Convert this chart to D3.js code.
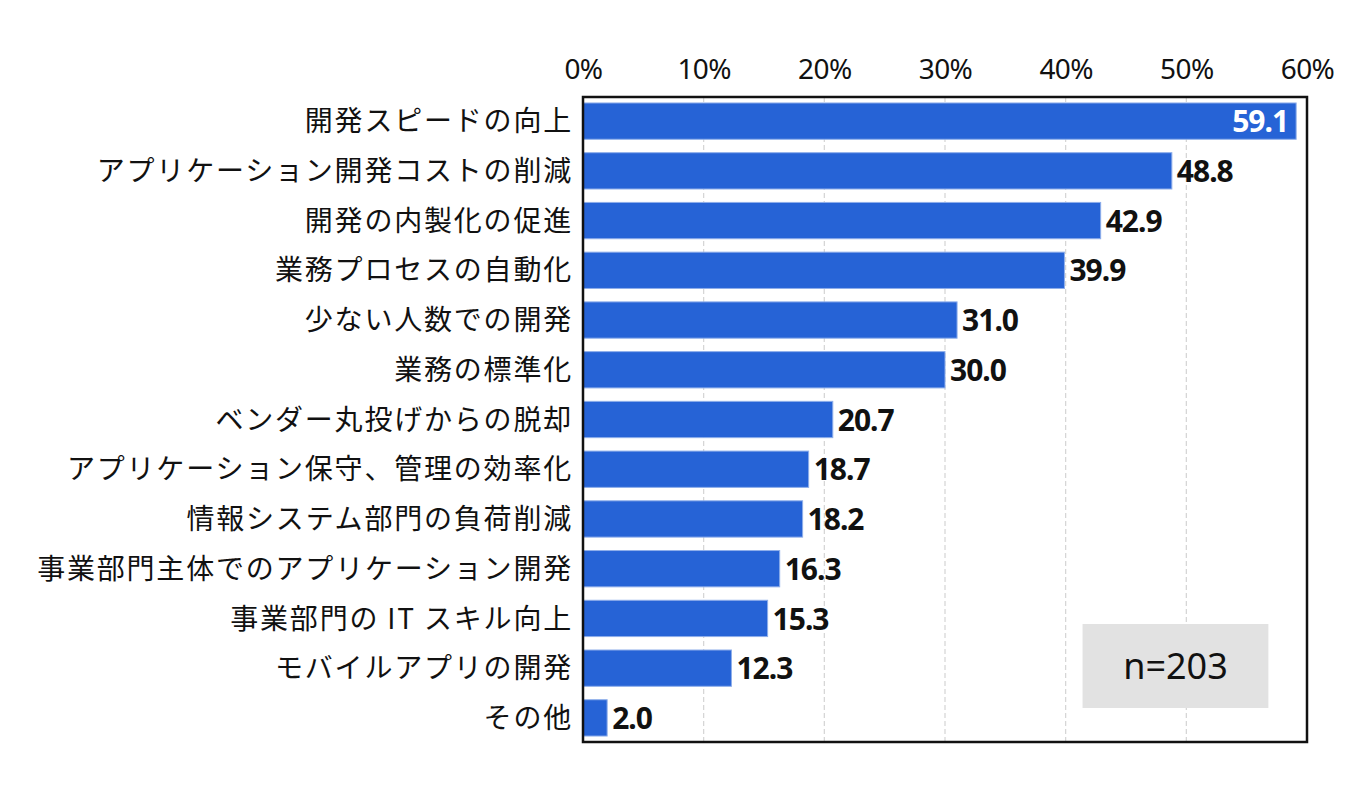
<!DOCTYPE html>
<html>
<head>
<meta charset="utf-8">
<script src="https://cdn.jsdelivr.net/npm/d3@7"></script>
<style>
  body { margin: 0; background: #fff; }
  svg text { font-family: "Noto Sans CJK JP", "Noto Sans", sans-serif; }
</style>
</head>
<body>
<div id="chart"></div>
<script>
// Data
const categories = [
    "開発スピードの向上",
    "アプリケーション開発コストの削減",
    "開発の内製化の促進",
    "業務プロセスの自動化",
    "少ない人数での開発",
    "業務の標準化",
    "ベンダー丸投げからの脱却",
    "アプリケーション保守、管理の効率化",
    "情報システム部門の負荷削減",
    "事業部門主体でのアプリケーション開発",
    "事業部門の IT スキル向上",
    "モバイルアプリの開発",
    "その他"
];
const values = [59.1, 48.8, 42.9, 39.9, 31.0, 30.0, 20.7, 18.7, 18.2, 16.3, 15.3, 12.3, 2.0];
const xTicks = [0, 10, 20, 30, 40, 50, 60];
const sampleNote = "n=203";

const [W, H] = [1370, 796];
const margin = {top: 97, right: 63, bottom: 54, left: 583};
const barColor = "#2663d6";

const svg = d3.select("#chart")
    .append("svg")
    .attr("width", W)
    .attr("height", H);

const x = d3.scaleLinear()
    .domain([0, 60])
    .range([margin.left, W - margin.right]);

const y = d3.scaleBand()
    .domain(categories)
    .range([margin.top, H - margin.bottom])
    .paddingInner(0.27)
    .paddingOuter(0.12);

// dashed grid lines
svg.append("g")
    .selectAll("line")
    .data(xTicks.slice(1, -1))
    .enter()
    .append("line")
    .attr("x1", d => x(d))
    .attr("x2", d => x(d))
    .attr("y1", margin.top)
    .attr("y2", H - margin.bottom)
    .attr("stroke", "#d4d4d4")
    .attr("stroke-width", 1.2)
    .attr("stroke-dasharray", "5,3");

// top axis labels
const xAxis = d3.axisTop(x)
    .tickValues(xTicks)
    .tickFormat(d => d + "%")
    .tickSize(0)
    .tickPadding(18);

const gx = svg.append("g")
    .attr("transform", `translate(0, ${margin.top})`)
    .call(xAxis);
gx.select(".domain").remove();
gx.selectAll("text")
    .attr("fill", "#111")
    .style("font-family", "'Noto Sans', sans-serif")
    .style("font-size", "28px")
    .style("letter-spacing", "-0.6px");

// bars
svg.append("g")
    .selectAll("rect")
    .data(values)
    .enter()
    .append("rect")
    .attr("x", x(0))
    .attr("y", (d, i) => y(categories[i]))
    .attr("width", d => x(d) - x(0))
    .attr("height", y.bandwidth())
    .attr("fill", barColor)
    .attr("stroke", "#8eaeea")
    .attr("stroke-width", 1);

// value labels
svg.append("g")
    .selectAll("text")
    .data(values)
    .enter()
    .append("text")
    .attr("x", (d, i) => i == 0 ? x(d) - 8 : x(d) + 5)
    .attr("y", (d, i) => y(categories[i]) + y.bandwidth() / 2)
    .attr("dy", "0.37em")
    .attr("text-anchor", (d, i) => i == 0 ? "end" : "start")
    .attr("fill", (d, i) => i == 0 ? "#fff" : "#111")
    .style("font-family", "'Noto Sans', sans-serif")
    .style("font-weight", "bold")
    .style("font-size", "30px")
    .style("letter-spacing", "-1px")
    .text(d => d.toFixed(1));

// category labels
svg.append("g")
    .selectAll("text")
    .data(categories)
    .enter()
    .append("text")
    .attr("x", margin.left - 10)
    .attr("y", d => y(d) + y.bandwidth() / 2)
    .attr("dy", "0.36em")
    .attr("text-anchor", "end")
    .attr("fill", "#111")
    .style("font-size", "28px")
    .style("letter-spacing", "1.8px")
    .text(d => d);

// frame
svg.append("rect")
    .attr("x", margin.left)
    .attr("y", margin.top)
    .attr("width", x(60) - x(0))
    .attr("height", H - margin.bottom - margin.top)
    .attr("fill", "none")
    .attr("stroke", "#111")
    .attr("stroke-width", 2.5);

// n box
const boxX = x(41.4), boxW = x(56.8) - x(41.4);
svg.append("rect")
    .attr("x", boxX)
    .attr("y", 624)
    .attr("width", boxW)
    .attr("height", 84)
    .attr("fill", "#e2e2e2");
svg.append("text")
    .attr("x", boxX + boxW / 2)
    .attr("y", 666)
    .attr("dy", "0.36em")
    .attr("text-anchor", "middle")
    .attr("fill", "#111")
    .style("font-family", "'Noto Sans', sans-serif")
    .style("font-size", "36px")
    .text(sampleNote);
</script>
</body>
</html>
